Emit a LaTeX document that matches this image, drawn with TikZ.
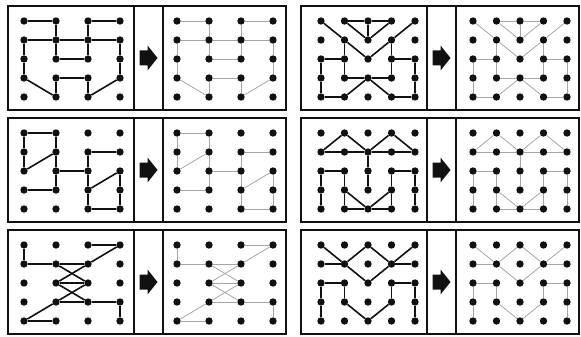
\documentclass[tikz,border=0pt]{standalone}
\usepackage{tikz}
\definecolor{PZInk}{HTML}{111111}
\definecolor{PZTrace}{HTML}{A6A6A6}

\tikzset{
  dot/.style={circle,fill=PZInk,inner sep=0pt,minimum size=7.4pt},
  solve/.style={PZInk,line width=1.6pt},
  trace/.style={PZTrace,line width=0.8pt},
  frame/.style={PZInk,line width=2.4pt},
  divider/.style={PZInk,line width=1.2pt},
  hint/.style={PZInk}
}

% one puzzle: id, frame left, frame top, columns, first dot left, first dot right, dot step
\newcommand{\puzzle}[7]{%
  \draw[frame] (#2,#3) rectangle ++(278,104);
  \draw[divider] ({#2+126},#3) -- ({#2+126},{#3+104});
  \draw[divider] ({#2+155},#3) -- ({#2+155},{#3+104});
  \coordinate (go#1) at ({#2+140.5},{#3+52});
  \fill[hint] (go#1) ++(-9,-7.5) -- ++(8,0) -- ++(0,-5) -- ++(10,12.5)
    -- ++(-10,12.5) -- ++(0,-5) -- ++(-8,0) -- cycle;
  \foreach \c in {1,...,#4} \foreach \r in {1,...,5} {
    \node[dot] (L#1-\c-\r) at ({#5+(\c-1)*#7},{#3+15+(\r-1)*19}) {};
    \node[dot] (R#1-\c-\r) at ({#6+(\c-1)*#7},{#3+15+(\r-1)*19}) {};
  }%
}
% segments of a puzzle, drawn on the left and traced on the right
\newcommand{\cuts}[2]{%
  \foreach \u/\v in {#2} {
    \draw[solve] (L#1-\u) -- (L#1-\v);
    \draw[trace] (R#1-\u) -- (R#1-\v);
  }%
}

\begin{document}
\begin{tikzpicture}[x=1pt,y=-1pt]
\useasboundingbox (0,0) rectangle (581,337);

\puzzle{a}{8}{6}{4}{24}{177}{32}
\cuts{a}{1-1/2-1,3-1/4-1,2-1/2-2,3-1/3-2,1-2/2-2,2-2/3-2,3-2/4-2,2-2/2-3,3-2/3-3,2-3/3-3,
  1-2/1-3,1-3/1-4,4-2/4-3,4-3/4-4,1-4/2-5,4-4/3-5,2-4/3-4,2-4/2-5,3-4/3-5}

\puzzle{b}{301}{6}{5}{321}{473}{23.5}
\cuts{b}{2-1/3-1,3-1/4-1,2-1/3-2,4-1/3-2,3-1/3-2,1-1/2-2,2-2/3-3,3-3/4-2,4-2/5-1,2-2/2-3,
  4-2/4-3,1-3/2-3,4-3/5-3,1-3/1-4,1-4/1-5,5-3/5-4,5-4/5-5,2-3/2-4,4-3/4-4,2-4/3-4,
  3-4/4-4,3-4/2-5,3-4/4-5,1-5/2-5,4-5/5-5}

\puzzle{c}{8}{118}{4}{24}{177}{32}
\cuts{c}{1-1/2-1,1-1/1-2,1-2/1-3,2-1/2-2,2-2/1-3,2-2/2-3,2-3/2-4,1-4/2-4,2-3/3-3,3-2/4-2,
  3-2/3-3,3-3/3-4,3-4/3-5,3-4/4-3,4-3/4-4,4-4/4-5,3-5/4-5}

\puzzle{d}{301}{118}{5}{321}{473}{23.5}
\cuts{d}{2-1/1-2,2-1/3-2,4-1/3-2,4-1/5-2,1-2/2-2,2-2/3-2,3-2/4-2,4-2/5-2,3-2/3-3,3-3/3-4,
  1-3/2-3,1-3/1-4,1-4/1-5,2-3/2-4,2-4/2-5,4-3/5-3,4-3/4-4,4-4/4-5,5-3/5-4,5-4/5-5,
  2-4/3-5,3-5/4-4,2-5/3-5,3-5/4-5}

\puzzle{e}{8}{230}{4}{24}{177}{32}
\cuts{e}{1-1/1-2,1-2/2-2,2-2/3-2,3-1/4-1,4-1/3-2,2-2/3-3,3-2/2-3,2-3/3-3,2-3/3-4,3-3/2-4,
  2-4/3-4,3-4/4-4,4-4/4-5,2-4/1-5,1-5/2-5}

\puzzle{f}{301}{230}{5}{321}{473}{23.5}
\cuts{f}{1-1/2-2,1-2/2-2,2-2/3-1,3-1/4-2,4-2/5-1,4-2/5-2,2-2/3-3,3-3/4-2,1-3/2-3,1-3/1-4,
  1-4/1-5,2-3/2-4,2-4/3-5,3-5/4-4,4-3/5-3,4-3/4-4,5-3/5-4,5-4/5-5}
\end{tikzpicture}
\end{document}
